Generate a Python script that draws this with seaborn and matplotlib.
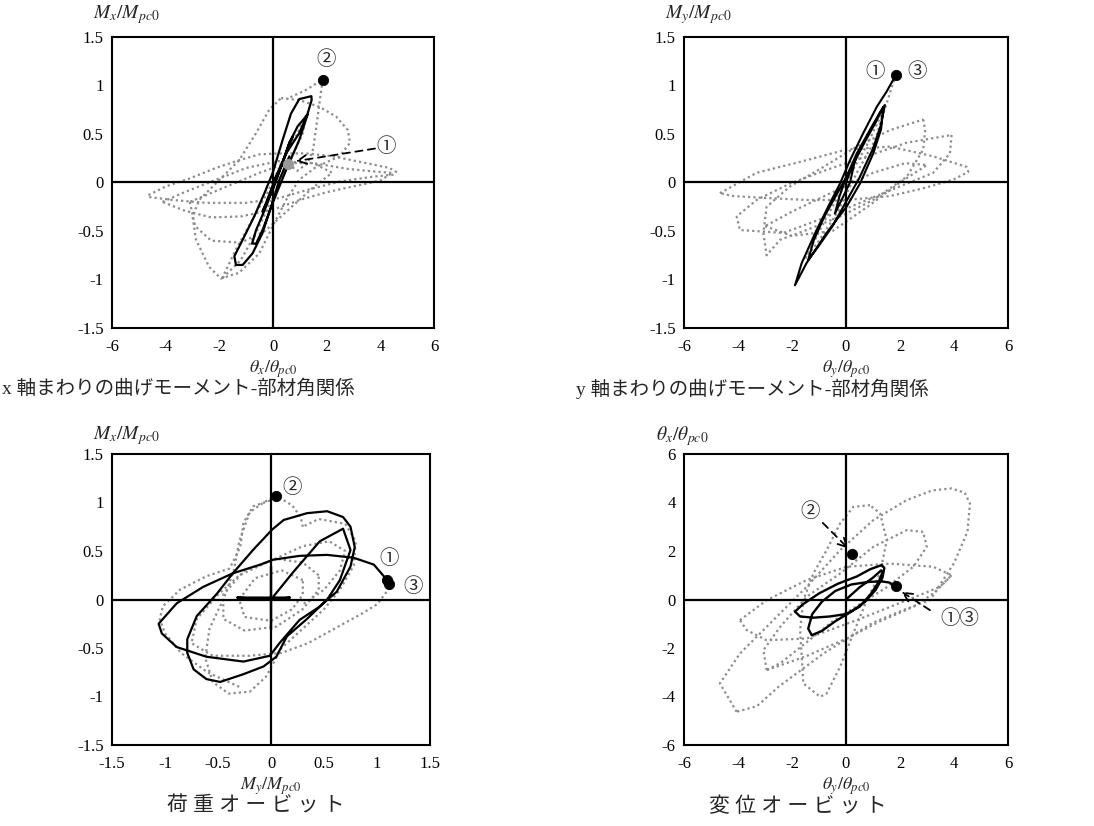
import matplotlib
matplotlib.use("Agg")
import matplotlib.pyplot as plt
import seaborn as sns
import pandas as pd

# ---- data ----
# panel 1 : theta_x / theta_pc0  vs  Mx / Mpc0
P1_BLACK = [(0, 0), (0.3, 0.16), (0.61, 0.41), (0.73, 0.47), (0.49, 0.30), (0.11, 0.06), (-0.26, -0.21),
            (-0.39, -0.30), (-0.01, -0.08), (0.30, 0.16), (0.61, 0.41), (0.92, 0.58), (1.29, 0.70), (0.98, 0.44),
            (0.49, 0.13), (-0.01, -0.21), (-0.39, -0.49), (-0.63, -0.63), (-0.78, -0.63), (-0.63, -0.49),
            (-0.26, -0.25), (0.11, 0.03), (0.49, 0.30), (0.98, 0.51), (1.29, 0.71), (1.44, 0.85), (1.43, 0.89),
            (0.98, 0.86), (0.67, 0.71), (0.36, 0.44), (-0.01, 0.10), (-0.32, -0.11), (-0.70, -0.35),
            (-1.13, -0.59), (-1.44, -0.76), (-1.38, -0.85), (-1.13, -0.85), (-0.76, -0.73), (-0.39, -0.52),
            (-0.07, -0.25), (0.24, 0.03), (0.61, 0.27)]
P1_GRAY_A = [(-4.64, -0.13), (-3.99, -0.04), (-3.12, 0.04), (-2.13, 0.15), (-1.26, 0.23), (-0.51, 0.29),
             (0.24, 0.30), (1.23, 0.30), (2.23, 0.27), (3.47, 0.20), (4.34, 0.15), (4.59, 0.11), (4.47, 0.08),
             (3.72, 0.06), (2.48, 0.01), (1.23, -0.08), (0.24, -0.16), (-1.01, -0.21), (-2.50, -0.21),
             (-3.74, -0.18), (-4.62, -0.15)]
P1_GRAY_B = [(-4.12, -0.20), (-3.3, -0.10), (-2.2, 0.02), (-1.0, 0.15), (0.2, 0.22), (1.5, 0.20), (2.8, 0.14),
             (3.9, 0.11), (4.45, 0.10), (4.0, 0.02), (3.0, -0.04), (2.0, -0.10), (1.0, -0.18), (0.0, -0.28),
             (-1.2, -0.35), (-2.3, -0.36), (-3.3, -0.29), (-4.12, -0.20)]
P1_GRAY_C = [(0.30, 0.87), (0.98, 0.85), (1.73, 0.78), (2.35, 0.68), (2.79, 0.54), (2.87, 0.41), (2.48, 0.27),
             (1.6, 0.16), (0.98, 0.03), (0.49, -0.18), (-0.01, -0.45), (-0.51, -0.73), (-1.26, -0.93),
             (-1.94, -0.99), (-2.38, -0.87), (-2.87, -0.59), (-3.0, -0.35), (-2.75, -0.18), (-2.13, -0.01),
             (-1.26, 0.23), (-0.63, 0.51), (-0.14, 0.75), (0.30, 0.87)]
P1_GRAY_D = [(-3.1, -0.2), (-2.9, -0.45), (-2.3, -0.6), (-1.2, -0.62), (-0.3, -0.5), (0.5, -0.3), (1.5, -0.05),
             (2.2, 0.1), (1.5, 0.2), (0.5, 0.2), (-0.5, 0.1), (-1.8, -0.05), (-3.1, -0.2)]
P1_GRAY_E = [(-1.9, -0.99), (-1.4, -0.7), (-0.8, -0.4), (-0.2, -0.1), (0.4, 0.25), (0.9, 0.5), (1.25, 0.7),
             (1.1, 0.5), (0.6, 0.2), (0.0, -0.15), (-0.6, -0.5), (-1.2, -0.8), (-1.9, -0.99)]
P1_GRAY_END = [(0.57, 0.19), (0.9, 0.12), (1.3, 0.2), (1.5, 0.35), (1.65, 0.65), (1.85, 1.06), (1.2, 0.95),
               (0.5, 0.86)]
P1_DOT_BLACK = [(1.85, 1.06)]
P1_DOT_GRAY = [(0.57, 0.19)]

# panel 2 : theta_y / theta_pc0  vs  My / Mpc0
P2_BLACK = [(0, 0), (0.35, 0.25), (0.15, 0.0), (-0.2, -0.2), (-0.41, -0.32), (-0.25, -0.15), (0.0, 0.05),
            (0.4, 0.3), (0.9, 0.55), (1.25, 0.72), (1.44, 0.80), (1.3, 0.6), (1.0, 0.35), (0.5, 0.05),
            (0.0, -0.2), (-0.5, -0.45), (-1.0, -0.65), (-1.40, -0.80), (-1.2, -0.6), (-0.8, -0.35),
            (-0.3, -0.1), (0.2, 0.15), (0.7, 0.42), (1.1, 0.62), (1.38, 0.78), (1.3, 0.55), (1.01, 0.30),
            (0.52, -0.01), (0.02, -0.25), (-0.72, -0.52), (-1.46, -0.83), (-1.89, -1.06), (-1.64, -0.83),
            (-1.09, -0.49), (-0.59, -0.21), (-0.22, -0.01), (0.15, 0.23), (0.64, 0.51), (1.14, 0.78),
            (1.51, 0.94), (1.85, 1.11)]
P2_GRAY_A = [(-4.67, -0.11), (-3.31, 0.10), (-1.46, 0.23), (0.02, 0.34), (1.63, 0.37), (3.23, 0.27),
             (4.47, 0.16), (4.53, 0.11), (3.98, 0.03), (2.86, -0.06), (1.63, -0.14), (0.02, -0.18),
             (-1.46, -0.18), (-2.94, -0.16), (-4.17, -0.14), (-4.67, -0.11)]
P2_GRAY_B = [(2.86, 0.65), (2.93, 0.54), (2.86, 0.34), (2.25, 0.06), (1.01, -0.18), (-0.22, -0.35),
             (-1.46, -0.49), (-2.44, -0.59), (-2.94, -0.75), (-3.06, -0.52), (-2.94, -0.25), (-2.07, -0.04),
             (-0.84, 0.16), (0.40, 0.37), (1.63, 0.54), (2.86, 0.65)]
P2_GRAY_C = [(3.91, 0.49), (3.85, 0.30), (3.23, 0.10), (2.0, -0.04), (0.52, -0.21), (-0.96, -0.38),
             (-2.32, -0.52), (-3.93, -0.49), (-4.05, -0.35), (-3.31, -0.18), (-2.07, -0.01), (-0.72, 0.13),
             (0.77, 0.27), (2.25, 0.41), (3.91, 0.49)]
P2_GRAY_D = [(-3.0, -0.45), (-2.0, -0.55), (-0.5, -0.5), (0.8, -0.25), (2.0, 0.0), (3.0, 0.18), (2.2, 0.2),
             (1.0, 0.1), (-0.5, -0.1), (-2.0, -0.3), (-3.0, -0.45)]
P2_GRAY_E = [(-1.5, -0.78), (-0.8, -0.4), (0, 0), (0.8, 0.4), (1.4, 0.75), (1.1, 0.45), (0.4, 0.1),
             (-0.3, -0.3), (-1.0, -0.6), (-1.5, -0.78)]
P2_GRAY_END = [(1.4, 0.72), (1.6, 0.9), (1.85, 1.11)]
P2_DOT_BLACK = [(1.85, 1.11)]

# panel 3 : My / Mpc0  vs  Mx / Mpc0  (load orbit)
P3_BLACK = [(0, 0), (0.18, 0.02), (-0.32, 0.02), (0, 0), (0, 0.34), (0, -0.31), (0, 0), (0.2, 0.27),
            (0.46, 0.60), (0.68, 0.73), (0.75, 0.51), (0.65, 0.20), (0.53, 0.0), (0.34, -0.20), (0.15, -0.38),
            (0.05, -0.59), (-0.07, -0.69), (-0.26, -0.77), (-0.48, -0.85), (-0.61, -0.82), (-0.73, -0.72),
            (-0.79, -0.55), (-0.79, -0.41), (-0.70, -0.17), (-0.51, 0.06), (-0.36, 0.27), (-0.17, 0.51),
            (0.01, 0.72), (0.12, 0.82), (0.34, 0.89), (0.53, 0.91), (0.68, 0.85), (0.75, 0.75), (0.79, 0.54),
            (0.75, 0.34), (0.62, 0.08), (0.45, -0.08), (0.27, -0.21), (0.08, -0.45), (-0.01, -0.58),
            (-0.26, -0.64), (-0.61, -0.59), (-0.89, -0.49), (-1.03, -0.35), (-1.06, -0.25), (-0.89, -0.04),
            (-0.64, 0.13), (-0.36, 0.27), (-0.1, 0.36), (0.02, 0.41), (0.27, 0.45), (0.53, 0.46), (0.78, 0.43),
            (0.97, 0.36), (1.08, 0.22), (1.10, 0.18)]
P3_GRAY_A = [(0.3, 0.75), (0.28, 0.85), (0.2, 0.97), (0.05, 1.07), (-0.07, 1.0), (-0.2, 0.9), (-0.3, 0.6),
             (-0.35, 0.3), (-0.45, 0.0), (-0.58, -0.3), (-0.62, -0.6), (-0.55, -0.85), (-0.4, -0.97),
             (-0.2, -0.95), (-0.05, -0.8), (0.1, -0.5), (0.3, -0.3), (0.5, -0.1), (0.65, 0.1), (0.78, 0.35),
             (0.8, 0.6), (0.7, 0.78), (0.45, 0.83), (0.3, 0.75)]
P3_GRAY_B = [(1.12, 0.12), (1.0, -0.05), (0.85, -0.15), (0.6, -0.3), (0.35, -0.45), (0.1, -0.55),
             (-0.2, -0.58), (-0.55, -0.58), (-0.75, -0.45), (-0.7, -0.2), (-0.5, 0.05), (-0.3, 0.25),
             (0.0, 0.4), (0.3, 0.55), (0.55, 0.6), (0.7, 0.5), (0.65, 0.3), (0.5, 0.1), (0.3, -0.05)]
P3_GRAY_C = [(0.45, 0.25), (0.3, 0.38), (0.05, 0.42), (-0.25, 0.3), (-0.45, 0.05), (-0.45, -0.2),
             (-0.25, -0.32), (0.05, -0.28), (0.3, -0.1), (0.45, 0.1), (0.45, 0.25)]
P3_GRAY_D = [(0.3, 0.2), (0.1, 0.3), (-0.15, 0.22), (-0.3, 0.0), (-0.25, -0.18), (0.0, -0.22), (0.2, -0.1),
             (0.3, 0.05), (0.3, 0.2)]
P3_GRAY_E = [(-0.3, -0.9), (-0.6, -0.75), (-0.85, -0.55), (-1.0, -0.35), (-1.05, -0.2), (-1.02, -0.07),
             (-0.86, 0.1), (-0.61, 0.24), (-0.39, 0.32), (-0.29, 0.54), (-0.26, 0.79), (-0.17, 0.96),
             (-0.01, 1.02), (0.05, 1.07)]
P3_DOT_BLACK = [(0.05, 1.07), (1.09, 0.20), (1.11, 0.16)]

# panel 4 : theta_y / theta_pc0  vs  theta_x / theta_pc0  (displacement orbit)
P4_BLACK = [(0, 0), (0.5, 0.5), (1.0, 0.9), (1.3, 1.2), (1.36, 1.15), (1.2, 0.7), (0.9, 0.2), (0.5, -0.3),
            (0.0, -0.6), (-0.6, -0.7), (-1.2, -0.75), (-1.7, -0.7), (-1.89, -0.5), (-1.6, -0.2), (-1.0, 0.25),
            (-0.3, 0.65), (0.4, 0.95), (0.9, 1.25), (1.32, 1.42), (1.42, 1.3), (1.35, 0.9), (1.1, 0.4),
            (0.7, -0.1), (0.2, -0.5), (-0.4, -0.9), (-0.9, -1.3), (-1.27, -1.47), (-1.4, -1.2), (-1.25, -0.6),
            (-0.9, -0.1), (-0.4, 0.35), (0.2, 0.62), (0.8, 0.72), (1.3, 0.75), (1.6, 0.7), (1.85, 0.55)]
P4_GRAY_A = [(-4.05, -4.63), (-4.67, -3.46), (-3.93, -2.23), (-2.69, -0.85), (-1.46, 0.52), (-0.22, 2.03),
             (1.01, 3.27), (2.25, 4.1), (3.2, 4.5), (3.91, 4.58), (4.4, 4.4), (4.59, 3.96), (4.5, 2.8),
             (4.0, 1.5), (3.11, -0.03), (2.2, -0.4), (1.01, -0.95), (-0.84, -2.23), (-2.5, -3.6),
             (-3.3, -4.4), (-4.05, -4.63)]
P4_GRAY_B = [(-2.94, -2.91), (-3.06, -2.09), (-2.44, -1.13), (-1.46, 0.11), (-0.22, 1.07), (1.01, 2.17),
             (2.25, 2.86), (2.86, 2.79), (2.99, 2.17), (2.49, 1.35), (1.5, 0.5), (0.5, -0.2), (-0.5, -0.9),
             (-1.5, -1.8), (-2.4, -2.6), (-2.94, -2.91)]
P4_GRAY_C = [(0.89, 3.89), (0.27, 3.82), (-0.22, 3.13), (-0.72, 2.03), (-1.21, 1.07), (-1.58, -0.03),
             (-1.7, -1.26), (-1.58, -3.46), (-0.96, -4.01), (-0.72, -3.88), (-0.22, -2.78), (0.27, -1.40),
             (0.77, -0.03), (1.26, 1.07), (1.51, 2.45), (1.26, 3.55), (0.89, 3.89)]
P4_GRAY_D = [(-3.93, -0.85), (-2.94, -0.03), (-1.46, 0.8), (0.02, 1.35), (1.63, 1.48), (3.23, 1.35),
             (3.91, 1.0), (3.48, 0.52), (2.25, -0.03), (0.4, -0.85), (-1.46, -1.61), (-2.94, -1.68),
             (-3.68, -1.26), (-3.93, -0.85)]
P4_GRAY_E = [(-2.94, -2.91), (-1.5, -2.35), (0.02, -1.61), (1.26, -0.9), (2.5, -0.3), (3.3, 0.3), (3.91, 1.0)]
P4_DOT_BLACK = [(0.21, 1.86), (1.85, 0.55)]

TICKS_6 = [-6, -4, -2, 0, 2, 4, 6]
TICKS_15 = [-1.5, -1, -0.5, 0, 0.5, 1, 1.5]
LABELS_6 = ["-6", "-4", "-2", "0", "2", "4", "6"]
LABELS_15 = ["-1.5", "-1", "-0.5", "0", "0.5", "1", "1.5"]

sns.set_style("white")
plt.rcParams["font.family"] = ["Liberation Serif", "Noto Sans CJK JP"]
plt.rcParams["mathtext.fontset"] = "stix"
plt.rcParams["axes.unicode_minus"] = False

W, H = 1094, 826
GRAY = "#8c8c8c"
DOT = (0, (1, 1.4))
CJK = ["Noto Sans CJK JP"]

fig = plt.figure(figsize=(W / 100, H / 100), dpi=100)


def rect(l, t, r, b):
    return [l / W, 1 - b / H, (r - l) / W, (b - t) / H]


def curve(ax, pts, color, ls, lw, z):
    df = pd.DataFrame(pts, columns=["x", "y"])
    sns.lineplot(data=df, x="x", y="y", sort=False, estimator=None, color=color,
                 linestyle=ls, linewidth=lw, zorder=z, ax=ax)


def dots(ax, pts, color):
    df = pd.DataFrame(pts, columns=["x", "y"])
    sns.scatterplot(data=df, x="x", y="y", color=color, edgecolor=color, s=55, zorder=6, ax=ax)


def frame(ax, xticks, xlabels, yticks, ylabels):
    ax.set_xlim(xticks[0], xticks[-1])
    ax.set_ylim(yticks[0], yticks[-1])
    ax.set_xticks(xticks)
    ax.set_xticklabels(xlabels)
    ax.set_yticks(yticks)
    ax.set_yticklabels(ylabels)
    ax.set_xlabel("")
    ax.set_ylabel("")
    ax.axhline(0, color="k", lw=1.6, zorder=2.5)
    ax.axvline(0, color="k", lw=1.6, zorder=2.5)
    ax.tick_params(direction="in", length=6, width=1.3, labelsize=12, top=False, right=False,
                   color="k", labelcolor="k")
    ax.tick_params(axis="x", pad=8)
    ax.tick_params(axis="y", pad=6)
    for s in ax.spines.values():
        s.set_color("k")
        s.set_linewidth(1.5)


def arrow(ax, start, end):
    ax.annotate("", xy=end, xytext=start,
                arrowprops=dict(arrowstyle="->", linestyle=(0, (4, 3)), lw=1.3, color="k",
                                shrinkA=0, shrinkB=0, mutation_scale=16), zorder=7)


def tag(ax, x, y, s):
    ax.text(x, y, s, fontsize=14, family=CJK, ha="center", va="center", zorder=8)


# panel 1
ax1 = fig.add_axes(rect(112, 37, 434, 328))
for g in [P1_GRAY_A, P1_GRAY_B, P1_GRAY_C, P1_GRAY_D, P1_GRAY_E, P1_GRAY_END]:
    curve(ax1, g, GRAY, DOT, 1.6, 2)
curve(ax1, P1_BLACK, "k", "-", 1.6, 3)
dots(ax1, P1_DOT_BLACK, "k")
dots(ax1, P1_DOT_GRAY, "#999999")
frame(ax1, TICKS_6, LABELS_6, TICKS_15, LABELS_15)
tag(ax1, 1.98, 1.27, "②")
tag(ax1, 4.2, 0.37, "①")
arrow(ax1, (3.8, 0.35), (0.85, 0.22))

# panel 2
ax2 = fig.add_axes(rect(684, 37, 1008, 328))
for g in [P2_GRAY_A, P2_GRAY_B, P2_GRAY_C, P2_GRAY_D, P2_GRAY_E, P2_GRAY_END]:
    curve(ax2, g, GRAY, DOT, 1.6, 2)
curve(ax2, P2_BLACK, "k", "-", 1.5, 3)
dots(ax2, P2_DOT_BLACK, "k")
frame(ax2, TICKS_6, LABELS_6, TICKS_15, LABELS_15)
tag(ax2, 1.07, 1.14, "①")
tag(ax2, 2.65, 1.14, "③")

# panel 3
ax3 = fig.add_axes(rect(112, 454, 430, 745))
for g in [P3_GRAY_A, P3_GRAY_B, P3_GRAY_C, P3_GRAY_D, P3_GRAY_E]:
    curve(ax3, g, GRAY, DOT, 1.6, 2)
curve(ax3, P3_BLACK, "k", "-", 1.6, 3)
dots(ax3, P3_DOT_BLACK, "k")
frame(ax3, TICKS_15, LABELS_15, TICKS_15, LABELS_15)
tag(ax3, 0.2, 1.15, "②")
tag(ax3, 1.11, 0.42, "①")
tag(ax3, 1.34, 0.13, "③")

# panel 4
ax4 = fig.add_axes(rect(684, 454, 1008, 745))
for g in [P4_GRAY_A, P4_GRAY_B, P4_GRAY_C, P4_GRAY_D, P4_GRAY_E]:
    curve(ax4, g, GRAY, DOT, 1.6, 2)
curve(ax4, P4_BLACK, "k", "-", 1.7, 3)
dots(ax4, P4_DOT_BLACK, "k")
frame(ax4, TICKS_6, LABELS_6, TICKS_6, LABELS_6)
tag(ax4, -1.33, 3.62, "②")
arrow(ax4, (-0.86, 3.16), (0.09, 2.1))
tag(ax4, 4.2, -0.78, "①③")
arrow(ax4, (3.11, -0.44), (2.06, 0.32))


def ftext(x, y, s, **kw):
    fig.text(x / W, 1 - y / H, s, **kw)


# axis titles
ftext(93, 15, r"$M_x/M_{pc0}$", fontsize=14, ha="left", va="center")
ftext(665, 15, r"$M_y/M_{pc0}$", fontsize=14, ha="left", va="center")
ftext(93, 436, r"$M_x/M_{pc0}$", fontsize=14, ha="left", va="center")
ftext(656, 436, r"$\theta_x/\theta_{pc0}$", fontsize=14, ha="left", va="center")
ftext(273, 369, r"$\theta_x/\theta_{pc0}$", fontsize=13, ha="center", va="center")
ftext(846, 369, r"$\theta_y/\theta_{pc0}$", fontsize=13, ha="center", va="center")
ftext(271, 786, r"$M_y/M_{pc0}$", fontsize=13, ha="center", va="center")
ftext(846, 786, r"$\theta_y/\theta_{pc0}$", fontsize=13, ha="center", va="center")

# captions
ftext(178, 389, "x 軸まわりの曲げモーメント-部材角関係", fontsize=14, ha="center", va="center")
ftext(752, 389, "y 軸まわりの曲げモーメント-部材角関係", fontsize=14, ha="center", va="center")
ftext(256, 807, "荷 重 オ ー ビ ッ ト", fontsize=15, ha="center", va="center")
ftext(798, 807, "変 位 オ ー ビ ッ ト", fontsize=15, ha="center", va="center")

fig.savefig("out.png", dpi=100)
